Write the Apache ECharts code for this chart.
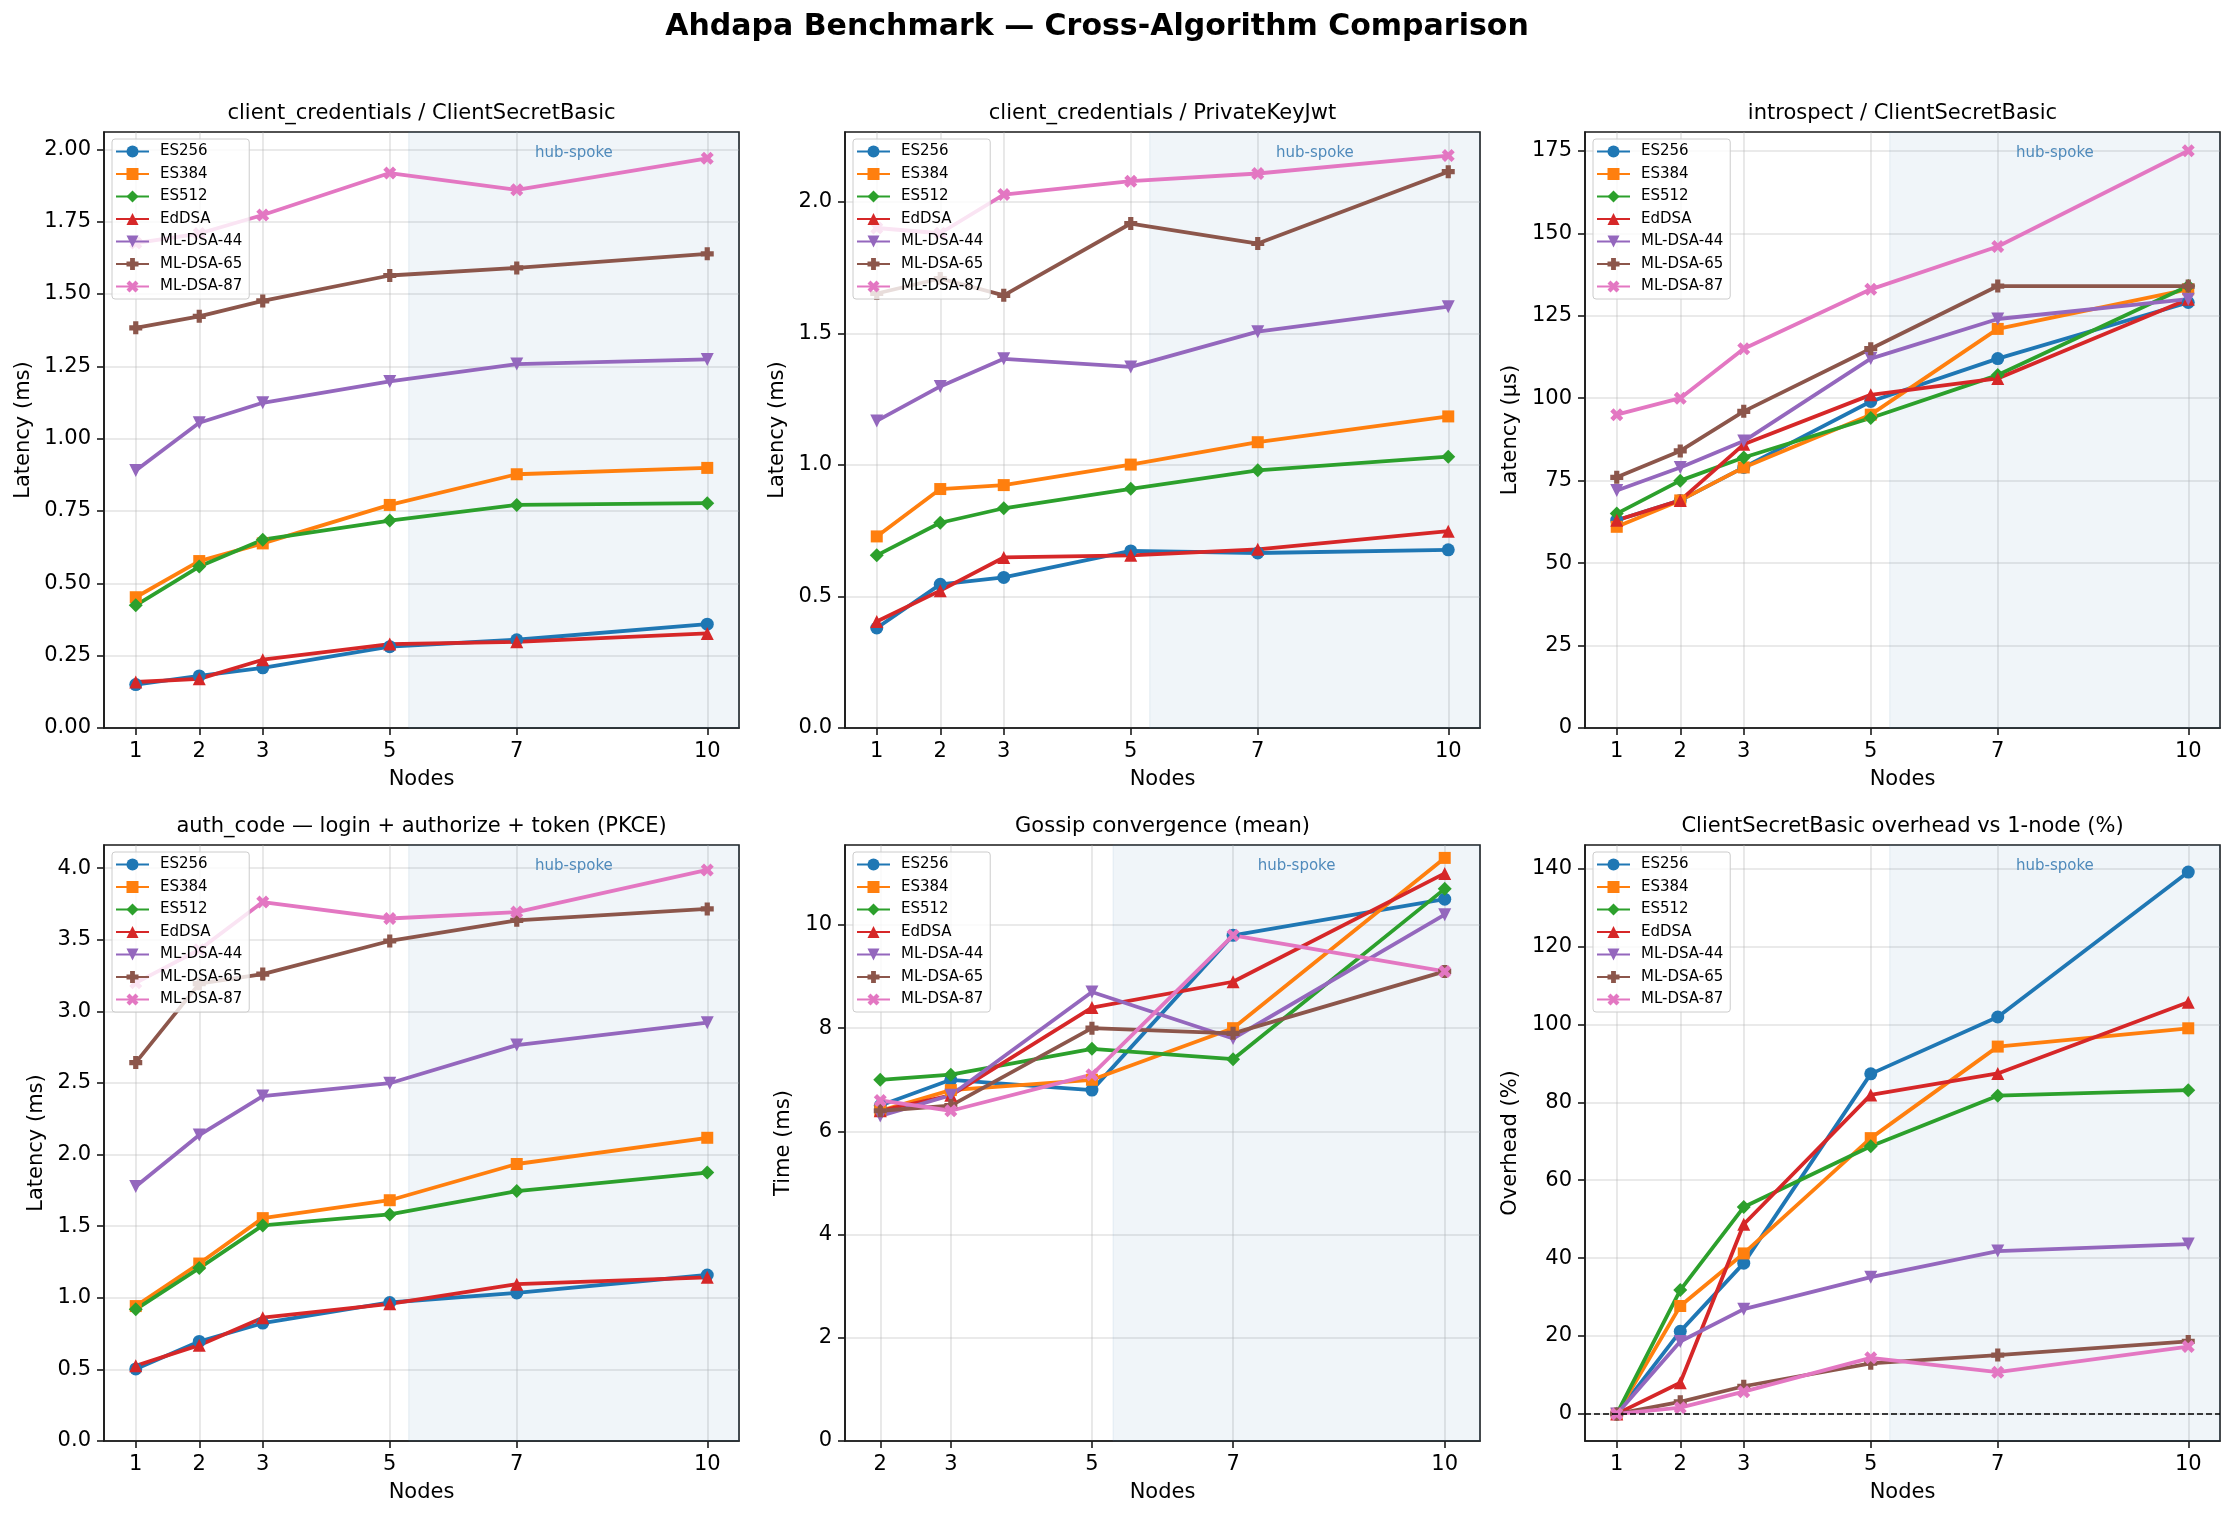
<!DOCTYPE html>
<html>
<head>
<meta charset="utf-8">
<title>Ahdapa Benchmark</title>
<script src="https://cdn.jsdelivr.net/npm/echarts@6/dist/echarts.min.js"></script>
<style>
  html, body { margin: 0; padding: 0; background: #fff; }
  #main { width: 2234px; height: 1520px; }
</style>
</head>
<body>
<div id="main"></div>
<script>
// node counts on the x axis
const nodes = [1, 2, 3, 5, 7, 10];
const gossipNodes = [2, 3, 5, 7, 10];
const algorithms = ['ES256', 'ES384', 'ES512', 'EdDSA', 'ML-DSA-44', 'ML-DSA-65', 'ML-DSA-87'];

// one row per algorithm, same order as above
const ccBasicMs = [
  [0.150, 0.180, 0.208, 0.281, 0.305, 0.359],
  [0.452, 0.577, 0.638, 0.771, 0.877, 0.899],
  [0.424, 0.558, 0.651, 0.717, 0.771, 0.777],
  [0.159, 0.170, 0.236, 0.290, 0.298, 0.327],
  [0.890, 1.055, 1.124, 1.198, 1.258, 1.274],
  [1.383, 1.423, 1.476, 1.564, 1.590, 1.639],
  [1.676, 1.709, 1.773, 1.918, 1.860, 1.969]
];
const ccJwtMs = [
  [0.380, 0.546, 0.572, 0.673, 0.665, 0.677],
  [0.728, 0.908, 0.923, 1.001, 1.086, 1.184],
  [0.656, 0.780, 0.835, 0.909, 0.979, 1.031],
  [0.405, 0.522, 0.648, 0.656, 0.679, 0.748],
  [1.167, 1.298, 1.403, 1.372, 1.506, 1.601],
  [1.651, 1.708, 1.644, 1.917, 1.841, 2.114],
  [1.900, 1.880, 2.027, 2.078, 2.107, 2.175]
];
const introspectUs = [
  [63, 69, 79, 99, 112, 129],
  [61, 69, 79, 95, 121, 133],
  [65, 75, 82, 94, 107, 134],
  [63, 69, 86, 101, 106, 130],
  [72, 79, 87, 112, 124, 130],
  [76, 84, 96, 115, 134, 134],
  [95, 100, 115, 133, 146, 175]
];
const authCodeMs = [
  [0.503, 0.695, 0.823, 0.967, 1.034, 1.159],
  [0.942, 1.239, 1.556, 1.681, 1.934, 2.117],
  [0.919, 1.207, 1.505, 1.582, 1.745, 1.874],
  [0.525, 0.669, 0.861, 0.958, 1.095, 1.143],
  [1.777, 2.136, 2.408, 2.498, 2.764, 2.921],
  [2.642, 3.193, 3.260, 3.491, 3.635, 3.715],
  [3.199, 3.430, 3.763, 3.648, 3.693, 3.987]
];
const gossipMs = [
  [6.5, 7.0, 6.8, 9.8, 10.5],
  [6.4, 6.8, 7.0, 8.0, 11.3],
  [7.0, 7.1, 7.6, 7.4, 10.7],
  [6.4, 6.7, 8.4, 8.9, 11.0],
  [6.3, 6.7, 8.7, 7.8, 10.2],
  [6.4, 6.5, 8.0, 7.9, 9.1],
  [6.6, 6.4, 7.1, 9.8, 9.1]
];
const overheadPct = [
  [0, 21.2, 38.7, 87.3, 101.9, 139.1],
  [0, 27.7, 41.2, 70.8, 94.3, 99.0],
  [0, 31.8, 53.1, 68.7, 81.7, 83.1],
  [0, 8.0, 48.7, 81.9, 87.4, 105.7],
  [0, 18.6, 26.9, 35.1, 41.8, 43.6],
  [0, 3.1, 7.1, 13.0, 15.1, 18.6],
  [0, 1.6, 5.7, 14.4, 10.7, 17.3]
];

// tick labels
const ccBasicTicks = [0, 0.25, 0.5, 0.75, 1.0, 1.25, 1.5, 1.75, 2.0];
const ccJwtTicks = [0, 0.5, 1.0, 1.5, 2.0];
const introspectTicks = [0, 25, 50, 75, 100, 125, 150, 175];
const authCodeTicks = [0, 0.5, 1.0, 1.5, 2.0, 2.5, 3.0, 3.5, 4.0];
const gossipTicks = [0, 2, 4, 6, 8, 10];
const overheadTicks = [0, 20, 40, 60, 80, 100, 120, 140];
const hubSpokeStart = 5.3;

const colors = ['#1f77b4', '#ff7f0e', '#2ca02c', '#d62728', '#9467bd', '#8c564b', '#e377c2'];
const plusPath = 'path://M3.6,0H8.4V3.6H12V8.4H8.4V12H3.6V8.4H0V3.6H3.6Z';
const crossPath = 'path://M3,0L6,3L9,0L12,3L9,6L12,9L9,12L6,9L3,12L0,9L3,6L0,3Z';
const symbols = ['circle', 'rect', 'diamond', 'triangle', 'triangle', plusPath, crossPath];
const symbolRotates = [0, 0, 0, 0, 180, 0, 0];
const symbolSizes = [13, 12, 14, 13, 13, 13, 13];
const FONT = '"DejaVu Sans", sans-serif';
const INK = '#1a1a1a';

const panels = [
  { title: 'client_credentials / ClientSecretBasic', yName: 'Latency (ms)', x: nodes, values: ccBasicMs, ticks: ccBasicTicks, digits: 2, zeroBottom: true, nameGap: 70 },
  { title: 'client_credentials / PrivateKeyJwt', yName: 'Latency (ms)', x: nodes, values: ccJwtMs, ticks: ccJwtTicks, digits: 1, zeroBottom: true, nameGap: 57 },
  { title: 'introspect / ClientSecretBasic', yName: 'Latency (µs)', x: nodes, values: introspectUs, ticks: introspectTicks, digits: 0, zeroBottom: true, nameGap: 64 },
  { title: 'auth_code — login + authorize + token (PKCE)', yName: 'Latency (ms)', x: nodes, values: authCodeMs, ticks: authCodeTicks, digits: 1, zeroBottom: true, nameGap: 57 },
  { title: 'Gossip convergence (mean)', yName: 'Time (ms)', x: gossipNodes, values: gossipMs, ticks: gossipTicks, digits: 0, zeroBottom: true, nameGap: 51 },
  { title: 'ClientSecretBasic overhead vs 1-node (%)', yName: 'Overhead (%)', x: nodes, values: overheadPct, ticks: overheadTicks, digits: 0, zeroBottom: false, nameGap: 64, zeroLine: true }
];

const colLeft = [104, 845, 1585];
const rowTop = [132, 845];
const gridW = 635;
const gridH = 596;

const grids = [], xAxes = [], yAxes = [], series = [], legends = [], graphics = [];

graphics.push({
  type: 'text', x: 1097, y: 27,
  style: { text: 'Ahdapa Benchmark — Cross-Algorithm Comparison', fontSize: 30, fontWeight: 'bold', fontFamily: FONT, fill: '#000', align: 'center', verticalAlign: 'middle' }
});

panels.forEach((p, i) => {
  const left = colLeft[i % 3];
  const top = rowTop[Math.floor(i / 3)];
  grids.push({ left: left, top: top, width: gridW, height: gridH, show: true, borderColor: INK, borderWidth: 1.6, backgroundColor: 'transparent' });

  // matplotlib-like autoscale with 5% margins
  const all = p.values.flat();
  const dMin = Math.min(...all), dMax = Math.max(...all);
  const pad = 0.05 * (dMax - dMin);
  const yMin = p.zeroBottom ? 0 : dMin - pad;
  const yMax = dMax + pad;
  const xMin = p.x[0] - 0.5;
  const xMax = 10.5;

  xAxes.push({
    type: 'value', gridIndex: i, min: xMin, max: xMax,
    name: 'Nodes', nameLocation: 'middle', nameGap: 41,
    nameTextStyle: { fontSize: 21, fontFamily: FONT, color: '#000' },
    axisLine: { show: true, onZero: false, lineStyle: { color: INK, width: 1.6 } },
    axisTick: { show: true, length: 7, customValues: p.x, lineStyle: { color: INK, width: 1.6 } },
    axisLabel: { customValues: p.x, fontSize: 21, fontFamily: FONT, color: '#000', margin: 13 },
    splitLine: { show: true, lineStyle: { color: 'rgba(176,176,176,0.35)', width: 1.6 } }
  });
  yAxes.push({
    type: 'value', gridIndex: i, min: yMin, max: yMax,
    name: p.yName, nameLocation: 'middle', nameGap: p.nameGap,
    nameTextStyle: { fontSize: 21, fontFamily: FONT, color: '#000' },
    axisLine: { show: true, onZero: false, lineStyle: { color: INK, width: 1.6 } },
    axisTick: { show: true, length: 7, customValues: p.ticks, lineStyle: { color: INK, width: 1.6 } },
    axisLabel: { customValues: p.ticks, fontSize: 21, fontFamily: FONT, color: '#000', margin: 13,
      formatter: v => Number(v).toFixed(p.digits) },
    splitLine: { show: true, lineStyle: { color: 'rgba(176,176,176,0.35)', width: 1.6 } }
  });

  algorithms.forEach((name, j) => {
    const s = {
      type: 'line', name: name, xAxisIndex: i, yAxisIndex: i,
      data: p.x.map((n, k) => [n, p.values[j][k]]),
      symbol: symbols[j], symbolRotate: symbolRotates[j], symbolSize: symbolSizes[j], symbolKeepAspect: true,
      showSymbol: true,
      lineStyle: { color: colors[j], width: 3.8 },
      itemStyle: { color: colors[j] },
      emphasis: { disabled: true },
      z: 3
    };
    if (j === 0) {
      s.markArea = {
        silent: true,
        itemStyle: { color: 'rgba(70,130,180,0.08)', borderColor: 'rgba(70,130,180,0.12)', borderWidth: 1 },
        label: { show: true, position: 'insideTop', distance: 14, color: '#4f8abb', fontSize: 15, fontFamily: FONT },
        data: [[{ name: 'hub-spoke', xAxis: hubSpokeStart }, { xAxis: xMax }]]
      };
      if (p.zeroLine) {
        s.markLine = {
          silent: true, symbol: 'none',
          label: { show: false },
          lineStyle: { color: '#000', type: [6, 3], width: 1.7 },
          data: [{ yAxis: 0 }]
        };
      }
    }
    series.push(s);
  });

  legends.push({
    data: algorithms, orient: 'vertical', left: left + 8, top: top + 7,
    itemWidth: 33, itemHeight: 15, itemGap: 7.5,
    padding: [5, 7, 5, 3],
    backgroundColor: 'rgba(255,255,255,0.8)', borderColor: '#cccccc', borderWidth: 1, borderRadius: 3,
    selectedMode: false,
    textStyle: { fontSize: 15, fontFamily: FONT, color: '#000', padding: [0, 0, 0, 6] }
  });

  graphics.push({
    type: 'text', x: left + gridW / 2, y: top - 18,
    style: { text: p.title, fontSize: 21, fontFamily: FONT, fill: '#000', align: 'center', verticalAlign: 'middle' }
  });
});

const chart = echarts.init(document.getElementById('main'));
chart.setOption({
  animation: false,
  backgroundColor: '#ffffff',
  textStyle: { fontFamily: FONT },
  grid: grids,
  xAxis: xAxes,
  yAxis: yAxes,
  legend: legends,
  graphic: graphics,
  series: series
});
</script>
</body>
</html>
